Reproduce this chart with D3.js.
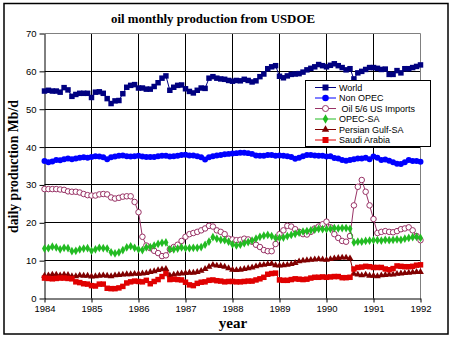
<!DOCTYPE html>
<html>
<head>
<meta charset="utf-8">
<script src="https://cdn.jsdelivr.net/npm/d3@7"></script>
<style>
    body { margin: 0; background: #fff; }
    #chart { width: 453px; height: 340px; }
    .tick text { font-family: "Liberation Sans", Arial, sans-serif; font-size: 9.5px; fill: #000; }
    .legend-text { font-family: "Liberation Sans", Arial, sans-serif; font-size: 9px; white-space: pre; }
</style>
</head>
<body>
<div id="chart"></div>
<script>
// monthly values, Jan 1984 .. Jan 1992 (97 months)
const startYear = 1984;
const yearTicks = [1984, 1985, 1986, 1987, 1988, 1989, 1990, 1991, 1992];
const valueTicks = [0, 10, 20, 30, 40, 50, 60, 70];

const world = [
    54.8, 55.0, 54.8, 54.8, 54.5, 55.7, 55.1, 53.4, 53.9, 54.2, 54.2, 54.2,
    53.1, 54.5, 54.6, 54.2, 52.8, 51.5, 52.2, 52.3, 54.1, 55.8, 56.3, 56.5,
    55.6, 55.6, 55.3, 55.3, 56.0, 57.0, 58.2, 58.8, 55.0, 55.8, 56.3, 56.4,
    55.4, 54.7, 54.3, 55.0, 55.6, 55.5, 58.2, 58.6, 58.2, 58.0, 57.9, 57.6,
    57.4, 57.6, 57.5, 57.9, 57.6, 57.2, 57.5, 58.6, 59.3, 60.7, 61.2, 61.5,
    58.7, 58.3, 58.8, 59.2, 59.3, 59.4, 59.8, 60.4, 60.8, 61.2, 61.8, 61.5,
    61.2, 61.6, 62.0, 61.5, 61.0, 60.4, 60.7, 58.0, 59.6, 60.0, 60.5, 61.0,
    61.0, 60.8, 60.5, 60.6, 59.2, 59.2, 60.2, 59.6, 60.7, 60.7, 61.0, 61.3,
    61.7
];
const nonOpec = [
    36.3, 36.0, 36.2, 36.6, 36.5, 36.8, 37.0, 36.8, 37.0, 37.2, 37.3, 37.2,
    37.4, 37.6, 37.5, 37.3, 36.8, 37.3, 37.5, 37.7, 37.8, 37.6, 37.5, 37.6,
    37.7, 37.5, 37.4, 37.4, 37.4, 37.6, 37.7, 37.7, 37.5, 37.6, 37.7, 37.9,
    38.0, 37.8, 37.8, 37.6, 37.3, 36.7, 37.3, 37.6, 37.8, 37.9, 38.1, 38.2,
    38.3, 38.4, 38.5, 38.5, 38.4, 38.2, 37.8, 37.7, 37.7, 37.9, 37.9, 37.7,
    37.8, 37.7, 37.6, 37.4, 36.9, 37.2, 37.6, 37.9, 37.9, 37.8, 37.7, 37.7,
    37.5, 37.6, 37.1, 37.0, 36.6, 36.4, 36.6, 36.8, 37.0, 37.0, 37.2, 36.8,
    37.5, 37.2, 36.6, 36.7, 36.4, 36.0, 35.6, 35.5, 36.0, 36.6, 36.3, 36.3,
    36.1
];
const usImports = [
    28.9, 28.9, 28.9, 28.9, 28.8, 28.7, 28.3, 28.2, 28.2, 28.0, 27.6, 27.3,
    27.2, 27.2, 27.5, 27.6, 27.5, 26.7, 26.4, 26.6, 26.9, 27.0, 27.0, 25.5,
    22.8, 16.3, 14.0, 13.3, 12.6, 12.0, 11.2, 11.4, 13.0, 13.6, 14.2, 15.2,
    16.3, 17.0, 17.3, 17.6, 18.0, 18.5, 19.2, 19.0, 18.0, 17.6, 17.0, 15.8,
    15.6, 15.4, 15.5, 15.8, 15.6, 15.0, 14.2, 13.6, 12.8, 12.5, 12.5, 14.4,
    17.0, 18.0, 19.2, 19.0, 18.3, 17.6, 17.0, 16.9, 17.6, 18.5, 19.0, 19.6,
    20.3, 18.8, 17.0, 16.0, 15.2, 15.0, 16.5, 24.6, 29.5, 31.3, 28.2, 24.6,
    21.0, 17.3, 17.6, 17.8, 17.6, 17.5, 17.8, 18.3, 18.5, 18.8, 18.0, 16.5,
    15.4
];
const opecSA = [
    13.2, 13.3, 13.7, 13.5, 13.0, 13.4, 13.3, 12.5, 12.6, 13.0, 13.2, 13.3,
    12.6, 13.0, 13.4, 13.3, 13.2, 12.2, 11.9, 12.2, 12.8, 13.5, 13.8, 13.4,
    13.0, 12.8, 13.5, 13.6, 14.0, 14.4, 14.7, 14.8, 13.0, 13.0, 13.2, 13.5,
    13.3, 13.3, 13.4, 13.4, 13.6, 14.2, 15.0, 16.2, 15.8, 15.5, 15.4, 15.0,
    14.3, 14.0, 14.2, 14.6, 14.9, 15.3, 15.8, 16.3, 16.6, 16.8, 16.5, 16.0,
    16.0, 16.1, 16.5, 16.8, 17.1, 17.4, 17.7, 17.8, 18.0, 18.2, 18.4, 18.3,
    18.3, 18.4, 18.6, 18.5, 18.6, 18.6, 18.4, 14.8, 15.0, 15.0, 15.2, 15.3,
    15.4, 15.4, 15.3, 15.5, 15.4, 15.5, 15.6, 15.5, 15.8, 16.0, 16.2, 16.3,
    16.0
];
const persianGulfSA = [
    6.0, 6.1, 6.3, 6.3, 6.1, 6.3, 6.2, 5.9, 5.9, 6.1, 6.0, 6.0,
    5.8, 5.9, 6.0, 6.1, 6.0, 5.9, 6.1, 6.2, 6.3, 6.4, 6.4, 6.5,
    6.5, 6.6, 6.7, 7.0, 7.2, 7.5, 7.7, 7.8, 6.1, 6.3, 6.5, 6.6,
    6.7, 6.8, 6.8, 7.0, 7.3, 7.8, 8.4, 8.9, 8.7, 8.6, 8.4, 8.0,
    7.6, 7.5, 7.6, 7.8, 8.0, 8.2, 8.5, 8.8, 8.9, 9.1, 9.2, 8.8,
    8.7, 8.8, 8.9, 9.1, 9.4, 9.8, 10.0, 10.1, 10.2, 10.3, 10.4, 10.3,
    10.2, 10.4, 10.6, 10.7, 10.8, 10.8, 10.6, 6.5, 6.3, 6.1, 6.3, 6.0,
    6.0, 5.9, 6.1, 6.2, 6.3, 6.3, 6.5, 6.6, 6.7, 6.8, 6.9, 7.0,
    7.0
];
const saudiArabia = [
    5.4, 5.3, 5.2, 5.3, 5.4, 5.4, 5.3, 5.2, 4.4, 4.2, 3.9, 3.8,
    3.4, 3.3, 3.8, 3.8, 2.7, 2.6, 2.6, 2.8, 3.2, 4.1, 4.4, 4.6,
    4.5, 4.4, 4.8, 3.9, 4.5, 5.0, 5.8, 6.6, 5.0, 5.1, 5.0, 4.9,
    4.3, 3.6, 3.4, 4.0, 4.3, 4.4, 4.8, 4.9, 4.7, 4.6, 4.4, 4.5,
    4.5, 4.4, 4.4, 4.5, 4.6, 4.6, 4.9, 5.2, 5.6, 6.4, 6.6, 6.7,
    4.9, 4.8, 4.8, 5.0, 5.2, 5.1, 5.0, 5.1, 5.4, 5.6, 5.6, 5.7,
    5.6, 5.7, 5.8, 5.8, 5.5, 5.5, 5.6, 7.8, 8.2, 8.3, 8.5, 8.4,
    8.2, 8.2, 8.2, 7.8, 7.6, 7.9, 8.6, 8.5, 8.4, 8.4, 8.5, 8.8,
    8.9
];

const seriesNames = ["World", "Non OPEC", " Oil 5/6 US Imports", "OPEC-SA", "Persian Gulf-SA", "Saudi Arabia"];
const seriesValues = [world, nonOpec, usImports, opecSA, persianGulfSA, saudiArabia];


class OilChart {
    constructor(parentElement) {
        this.parentElement = parentElement;
        this.initVis();
    }

    initVis() {
        let vis = this;

        vis.width = 453;
        vis.height = 340;

        vis.svg = d3.select(`#${vis.parentElement}`).append("svg")
            .attr("width", vis.width)
            .attr("height", vis.height);

        // outer frame
        vis.svg.append("rect")
            .attr("x", 4).attr("y", 3.5)
            .attr("width", 444).attr("height", 330.5)
            .attr("fill", "#fff")
            .attr("stroke", "#000")
            .attr("stroke-width", 1.5);

        vis.x = d3.scaleLinear().domain([1984, 1992]).range([44.5, 420.5]);
        vis.y = d3.scaleLinear().domain([0, 70]).range([298.5, 33.5]);

        // marker styles per series
        vis.styles = [
            { color: "#000080", symbol: d3.symbolSquare, size: 30, fill: "#000080" },
            { color: "#0000ff", symbol: d3.symbolCircle, size: 28, fill: "#0000ff" },
            { color: "#993366", symbol: d3.symbolCircle, size: 24, fill: "#fff" },
            { color: "#22bb22", symbol: d3.symbolDiamond, size: 22, fill: "#22bb22" },
            { color: "#800000", symbol: d3.symbolTriangle, size: 20, fill: "#800000" },
            { color: "#e00000", symbol: d3.symbolSquare, size: 30, fill: "#e00000" }
        ];

        vis.drawAxes();
        vis.wrangleData();
    }

    drawAxes() {
        let vis = this;
        const crisp = v => Math.round(v - 0.5) + 0.5;

        // gridlines
        vis.svg.append("g").selectAll("line.hgrid")
            .data(valueTicks.filter(d => d > 0 && d < 70))
            .enter().append("line")
            .attr("x1", vis.x(1984)).attr("x2", vis.x(1992))
            .attr("y1", d => crisp(vis.y(d))).attr("y2", d => crisp(vis.y(d)))
            .attr("stroke", "#000");

        vis.svg.append("g").selectAll("line.vgrid")
            .data(yearTicks.filter(d => d > 1984 && d < 1992))
            .enter().append("line")
            .attr("x1", d => crisp(vis.x(d))).attr("x2", d => crisp(vis.x(d)))
            .attr("y1", vis.y(0)).attr("y2", vis.y(70))
            .attr("stroke", "#000");

        // grey top / right border of plot area
        vis.svg.append("path")
            .attr("d", `M${vis.x(1984)},${vis.y(70)}H${vis.x(1992)}V${vis.y(0)}`)
            .attr("fill", "none")
            .attr("stroke", "#808080");

        // axes
        vis.svg.append("g")
            .attr("transform", `translate(0,${vis.y(0)})`)
            .call(d3.axisBottom(vis.x).tickValues(yearTicks).tickFormat(d3.format("d")).tickSize(4).tickSizeOuter(0).tickPadding(3))
            .call(g => g.selectAll("line, path").attr("stroke", "#000"));

        vis.svg.append("g")
            .attr("transform", `translate(${vis.x(1984)},0)`)
            .call(d3.axisLeft(vis.y).tickValues(valueTicks).tickSize(5).tickSizeOuter(0).tickPadding(3))
            .call(g => g.selectAll("line, path").attr("stroke", "#000"));

        // titles
        vis.svg.append("text")
            .attr("x", 213).attr("y", 23)
            .attr("text-anchor", "middle")
            .attr("font-family", "'Liberation Serif', 'Times New Roman', serif")
            .attr("font-weight", "bold")
            .attr("font-size", 13.5)
            .attr("textLength", 204)
            .attr("lengthAdjust", "spacingAndGlyphs")
            .text("oil monthly production from USDOE");

        vis.svg.append("text")
            .attr("transform", "translate(17.5,166.5) rotate(-90)")
            .attr("text-anchor", "middle")
            .attr("font-family", "'Liberation Serif', 'Times New Roman', serif")
            .attr("font-weight", "bold")
            .attr("font-size", 14)
            .attr("textLength", 133)
            .attr("lengthAdjust", "spacingAndGlyphs")
            .text("daily production Mb/d");

        vis.svg.append("text")
            .attr("x", 233).attr("y", 328)
            .attr("text-anchor", "middle")
            .attr("font-family", "'Liberation Serif', 'Times New Roman', serif")
            .attr("font-weight", "bold")
            .attr("font-size", 15)
            .text("year");
    }

    wrangleData() {
        let vis = this;

        vis.displayData = seriesNames.map((name, i) => ({
            name: name,
            style: vis.styles[i],
            values: seriesValues[i].map((v, m) => ({ t: startYear + m / 12, v: v }))
        }));

        vis.updateVis();
    }

    updateVis() {
        let vis = this;

        let line = d3.line().x(d => vis.x(d.t)).y(d => vis.y(d.v));

        let groups = vis.svg.selectAll(".series")
            .data(vis.displayData)
            .enter().append("g")
            .attr("class", "series");

        groups.append("path")
            .attr("d", d => line(d.values))
            .attr("fill", "none")
            .attr("stroke", d => d.style.color)
            .attr("stroke-width", 1);

        groups.each(function (s) {
            d3.select(this).selectAll("path.mark")
                .data(s.values)
                .enter().append("path")
                .attr("class", "mark")
                .attr("transform", d => `translate(${vis.x(d.t)},${vis.y(d.v)})`)
                .attr("d", d3.symbol().type(s.style.symbol).size(s.style.size))
                .attr("fill", s.style.fill)
                .attr("stroke", s.style.fill === "#fff" ? s.style.color : "none")
                .attr("stroke-width", 1);
        });

        // Legend
        let legend = vis.svg.append("g");
        legend.append("rect")
            .attr("x", 305.5).attr("y", 80.5)
            .attr("width", 125).attr("height", 66)
            .attr("fill", "#fff")
            .attr("stroke", "#000");

        let rows = legend.selectAll(".legend-row")
            .data(vis.displayData)
            .enter().append("g")
            .attr("class", "legend-row")
            .attr("transform", (d, i) => `translate(0,${87.5 + i * 10.5})`);

        rows.append("line")
            .attr("x1", 315).attr("x2", 336)
            .attr("stroke", d => d.style.color);

        rows.append("path")
            .attr("transform", "translate(325.5,0)")
            .attr("d", d => d3.symbol().type(d.style.symbol).size(d.style.size * 1.2)())
            .attr("fill", d => d.style.fill)
            .attr("stroke", d => d.style.fill === "#fff" ? d.style.color : "none");

        rows.append("text")
            .attr("class", "legend-text")
            .attr("x", 339).attr("y", 3.2)
            .text(d => d.name);
    }
}

new OilChart("chart");
</script>
</body>
</html>
